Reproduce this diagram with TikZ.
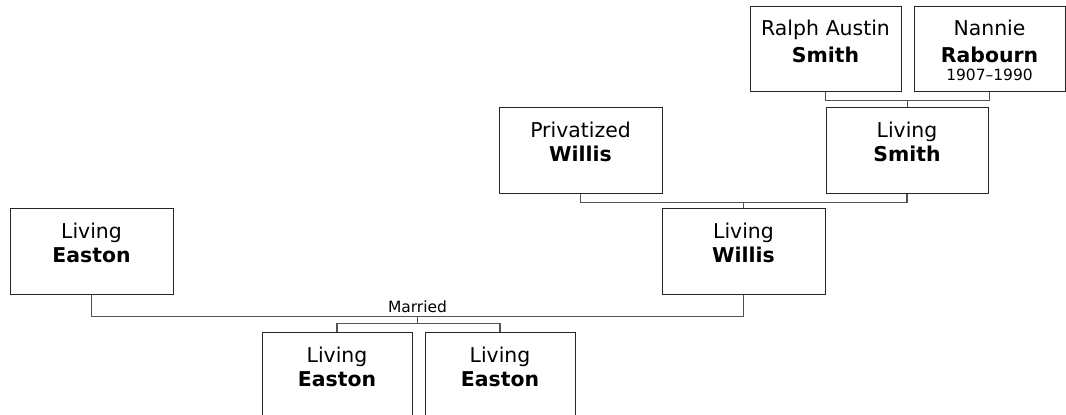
\documentclass[tikz,border=0pt]{standalone}
\usepackage{fontspec}
\setmainfont{DejaVu Sans}
\usepackage{tikz}
\usetikzlibrary{positioning}
\newcommand{\namefont}{\fontsize{15.3pt}{18pt}\selectfont}
\newcommand{\datefont}{\fontsize{11.6pt}{14pt}\selectfont}

\begin{document}
\begin{tikzpicture}[x=0.75pt, y=0.75pt, node distance=9pt, font=\namefont,
    pbox/.style={draw=black!85, line width=0.75pt, fill=white, inner sep=0pt, align=center,
      text width=122.25pt, text height=22.5pt, text depth=42pt},
    topbox/.style={pbox, text width=113.25pt, text height=21.75pt},
    kidbox/.style={pbox, text width=112.5pt},
    link/.style={draw=black!68, line width=0.9pt}]
        \useasboundingbox (0,0) rectangle (1066,414);
        \node[pbox] (le) at (91.5,162) {Living\\\textbf{Easton}};
        \node[pbox] (lw) at (743.5,162) {Living\\\textbf{Willis}};
        \node[pbox] (pw) at (580.5,263) {Privatized\\\textbf{Willis}};
        \node[pbox, text width=121.5pt] (ls) at (907,263) {Living\\\textbf{Smith}};
        \node[topbox] (rs) at (825.5,364.5) {Ralph Austin\\[2.25pt]\textbf{Smith}};
        \node[topbox] (nr) [right=of rs] {Nannie\\[2.25pt]\textbf{Rabourn}\\[-4.5pt]{\datefont 1907–1990}};
        \node[kidbox] (k1) at (337,39) {Living\\\textbf{Easton}};
        \node[kidbox] (k2) [right=of k1] {Living\\\textbf{Easton}};
        \draw[link] (rs.south) -- ++(0,-8) -| (nr.south) coordinate[pos=0.25] (j1);
        \draw[link] (j1) -- (j1 |- ls.north);
        \draw[link] (pw.south) -- ++(0,-8) -| (ls.south) coordinate[pos=0.25] (j2);
        \draw[link] (j2) -- (j2 |- lw.north);
        \draw[link] (le.south) -- ++(0,-21) -| (lw.south)
          node[pos=0.25, above, inner sep=2.5pt, font=\datefont] (mar) {Married}
          coordinate[pos=0.25] (j3);
        \draw[link] (k1.north) -- ++(0,8) -| (k2.north) coordinate[pos=0.25] (j4);
        \draw[link] (j3) -- (j3 |- j4);
      \end{tikzpicture}
\end{document}
